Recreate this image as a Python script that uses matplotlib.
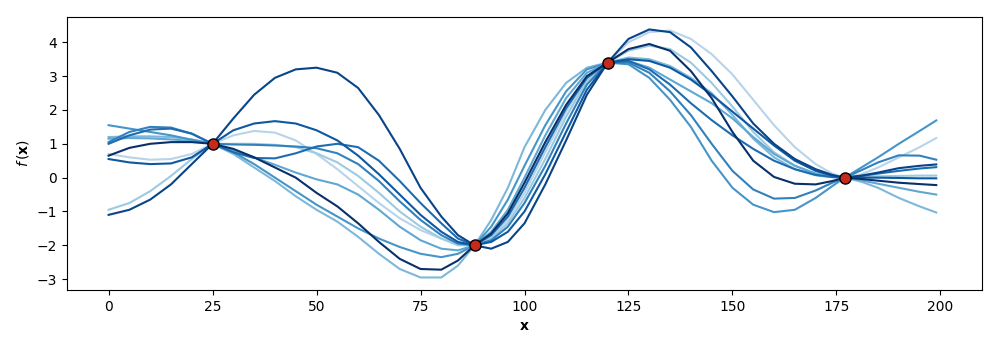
import numpy as np
import matplotlib
matplotlib.use("Agg")
import matplotlib.pyplot as plt

# shared sample positions of the posterior curves
x = [0, 5, 10, 15, 20, 25, 30, 35, 40, 45, 50, 55, 60, 65, 70, 75, 80, 84, 88,
     92, 96, 100, 105, 110, 115, 120, 125, 130, 135, 140, 145, 150, 155, 160,
     165, 170, 174, 177, 181, 185, 190, 195, 199]

# observed points
x_obs = [25, 88, 120, 177]
y_obs = [1.0, -2.0, 3.4, 0.0]

# ten posterior sample curves, light -> dark
sample0 = [0.70, 0.60, 0.53, 0.55, 0.70, 1.00,
           1.25, 1.38, 1.33, 1.10, 0.70, 0.25, -0.25, -0.75, -1.20, -1.55, -1.80, -1.95, -2.0,
           -1.75, -1.25, -0.45, 0.75, 1.95, 2.90, 3.4,
           4.00, 4.30, 4.35, 4.10, 3.65, 3.05, 2.30, 1.55, 0.90, 0.40, 0.12, 0.0,
           0.10, 0.30, 0.60, 0.90, 1.17]
sample1 = [-0.95, -0.75, -0.40, 0.05, 0.55, 1.00,
           1.00, 1.00, 0.97, 0.90, 0.72, 0.45, 0.05, -0.45, -1.00, -1.45, -1.80, -2.00, -2.0,
           -1.80, -1.35, -0.60, 0.55, 1.80, 2.85, 3.4,
           3.75, 3.90, 3.80, 3.40, 2.80, 2.10, 1.35, 0.75, 0.35, 0.12, 0.03, 0.0,
           0.02, 0.04, 0.05, 0.06, 0.06]
sample2 = [1.20, 1.22, 1.22, 1.20, 1.13, 1.00,
           0.70, 0.30, -0.10, -0.55, -0.95, -1.30, -1.75, -2.25, -2.70, -2.95, -2.95, -2.60, -2.0,
           -1.25, -0.30, 0.90, 2.00, 2.80, 3.25, 3.4,
           3.55, 3.50, 3.30, 2.95, 2.50, 1.85, 1.15, 0.60, 0.25, 0.07, 0.01, 0.0,
           -0.12, -0.30, -0.60, -0.85, -1.03]
sample3 = [1.15, 1.17, 1.16, 1.13, 1.08, 1.00,
           0.80, 0.60, 0.38, 0.15, -0.05, -0.20, -0.50, -0.95, -1.45, -1.85, -2.10, -2.15, -2.0,
           -1.60, -0.95, 0.00, 1.25, 2.35, 3.10, 3.4,
           3.45, 3.25, 2.90, 2.55, 2.20, 1.75, 1.20, 0.70, 0.35, 0.12, 0.03, 0.0,
           -0.08, -0.18, -0.30, -0.42, -0.50]
sample4 = [1.55, 1.45, 1.35, 1.25, 1.12, 1.00,
           0.75, 0.40, 0.00, -0.40, -0.80, -1.15, -1.50, -1.80, -2.05, -2.25, -2.35, -2.25, -2.0,
           -1.45, -0.65, 0.35, 1.55, 2.55, 3.20, 3.4,
           3.35, 2.95, 2.30, 1.50, 0.50, -0.30, -0.80, -1.02, -0.95, -0.60, -0.25, 0.0,
           0.30, 0.60, 1.00, 1.38, 1.69]
sample5 = [1.05, 1.35, 1.50, 1.48, 1.30, 1.00,
           0.98, 0.97, 0.95, 0.92, 0.87, 0.72, 0.40, -0.10, -0.70, -1.25, -1.70, -1.95, -2.0,
           -1.85, -1.45, -0.75, 0.35, 1.60, 2.75, 3.4,
           3.40, 3.10, 2.55, 1.85, 1.00, 0.20, -0.35, -0.62, -0.60, -0.38, -0.15, 0.0,
           0.22, 0.45, 0.66, 0.65, 0.53]
sample6 = [1.00, 1.25, 1.42, 1.45, 1.30, 1.00,
           0.75, 0.58, 0.57, 0.72, 0.92, 1.00, 0.90, 0.50, -0.10, -0.75, -1.35, -1.80, -2.0,
           -1.70, -1.15, -0.30, 0.90, 2.05, 2.95, 3.4,
           3.45, 3.20, 2.75, 2.20, 1.70, 1.25, 0.85, 0.50, 0.25, 0.08, 0.02, 0.0,
           0.05, 0.12, 0.20, 0.27, 0.31]
sample7 = [0.55, 0.45, 0.40, 0.42, 0.60, 1.00,
           1.40, 1.60, 1.67, 1.60, 1.40, 1.10, 0.65, 0.10, -0.50, -1.10, -1.60, -1.90, -2.0,
           -1.90, -1.60, -1.00, 0.10, 1.35, 2.60, 3.4,
           3.50, 3.45, 3.25, 2.90, 2.45, 1.95, 1.45, 0.95, 0.50, 0.20, 0.06, 0.0,
           0.00, 0.00, -0.01, -0.02, -0.02]
sample8 = [-1.10, -0.95, -0.65, -0.20, 0.40, 1.00,
           1.75, 2.45, 2.95, 3.20, 3.25, 3.10, 2.65, 1.85, 0.85, -0.30, -1.15, -1.70, -2.0,
           -2.10, -1.90, -1.35, -0.20, 1.10, 2.45, 3.4,
           4.10, 4.38, 4.30, 3.85, 3.15, 2.40, 1.60, 1.00, 0.55, 0.25, 0.08, 0.0,
           0.06, 0.15, 0.28, 0.35, 0.39]
sample9 = [0.65, 0.88, 1.00, 1.05, 1.05, 1.00,
           0.85, 0.60, 0.30, 0.00, -0.45, -0.85, -1.35, -1.90, -2.40, -2.70, -2.72, -2.45, -2.0,
           -1.65, -1.05, -0.15, 1.05, 2.15, 3.00, 3.4,
           3.80, 3.95, 3.75, 3.15, 2.35, 1.35, 0.50, 0.02, -0.18, -0.20, -0.10, 0.0,
           -0.04, -0.09, -0.15, -0.19, -0.22]

samples = [sample0, sample1, sample2, sample3, sample4,
           sample5, sample6, sample7, sample8, sample9]

fig = plt.figure(figsize=(10, 3.41), dpi=100)
ax = fig.add_axes([0.067, 0.150, 0.915, 0.800])

colors = plt.cm.Blues(np.linspace(0.3, 1.0, len(samples)))
for s, c in zip(samples, colors):
    ax.plot(x, s, color=c, lw=1.5, solid_joinstyle="round")

ax.plot(x_obs, y_obs, "o", color="#c42b1c", markeredgecolor="black",
        markersize=8, markeredgewidth=1.0, zorder=10)

ax.set_xlabel(r"$\mathbf{x}$")
ax.set_ylabel(r"$f\,(\mathbf{x})$")
ax.set_xlim(-10, 210)
ax.set_yticks([-3, -2, -1, 0, 1, 2, 3, 4])

fig.savefig("out.png", dpi=100)
